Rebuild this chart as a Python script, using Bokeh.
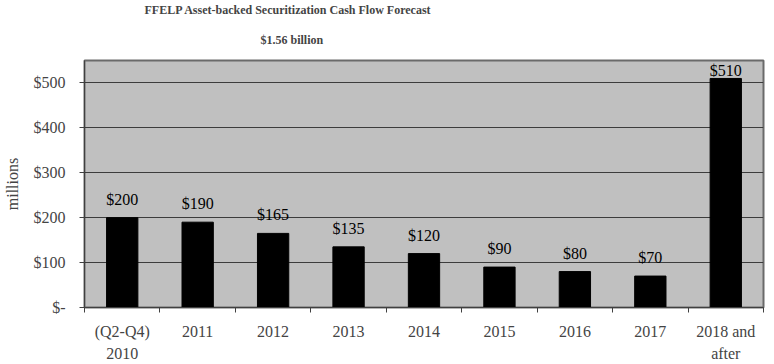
from bokeh.plotting import figure
from bokeh.models import ColumnDataSource, Range1d, FixedTicker, LabelSet, Title
from bokeh.embed import file_html
from bokeh.resources import INLINE

categories = ["(Q2-Q4)\n2010", "2011", "2012", "2013", "2014", "2015", "2016", "2017", "2018 and\nafter"]
values = [200, 190, 165, 135, 120, 90, 80, 70, 510]
value_labels = ["$200", "$190", "$165", "$135", "$120", "$90", "$80", "$70", "$510"]
y_ticks = [0, 100, 200, 300, 400, 500]
y_tick_labels = ["$-", "$100", "$200", "$300", "$400", "$500"]
title_lines = ["FFELP Asset-backed Securitization Cash Flow Forecast", "$1.56 billion"]

Y_MAX = 550
SERIF = "Liberation Serif"
n = len(categories)
centers = [i + 0.5 for i in range(n)]
edges = list(range(n + 1))

# labels sit above bars, except where the top of the plot leaves no room
offsets = [13 if v < 0.88 * Y_MAX else 2 for v in values]

src = ColumnDataSource(dict(x=centers, val=values, lab=value_labels, off=offsets))

p = figure(x_range=Range1d(0, n), y_range=Range1d(0, Y_MAX),
           width=766, height=364, output_backend="svg", toolbar_location=None,
           min_border_left=77, min_border_right=3,
           min_border_top=57, min_border_bottom=56)
p.border_fill_color = "white"
p.background_fill_color = "#c0c0c0"
p.outline_line_color = "#6a6a6a"
p.outline_line_width = 2

# titles (line 1 outermost)
p.title.text = title_lines[0]
p.title.align = "left"
p.title.offset = 60
p.title.text_font = SERIF
p.title.text_font_size = "12px"
p.title.text_font_style = "bold"
p.title.standoff = 0
p.add_layout(Title(text=title_lines[1], align="left", offset=176, text_font=SERIF,
                   text_font_size="12px", text_font_style="bold", standoff=28), "above")

p.vbar(x="x", top="val", width=0.415, source=src, fill_color="black", line_color="black")

p.add_layout(LabelSet(x="x", y="val", text="lab", source=src, y_offset="off",
                      text_align="center", text_baseline="alphabetic",
                      text_font=SERIF, text_font_size="16px", text_color="black"))

# y axis
ya = p.yaxis[0]
ya.ticker = FixedTicker(ticks=y_ticks)
ya.major_label_overrides = {t: l for t, l in zip(y_ticks, y_tick_labels)}
ya.major_label_text_font = SERIF
ya.major_label_text_font_size = "16px"
ya.major_label_standoff = 14
ya.major_tick_out = 5
ya.major_tick_in = 0
ya.minor_tick_out = 0
ya.minor_tick_in = 0
ya.axis_line_color = "#404040"
ya.major_tick_line_color = "#404040"
ya.axis_label = "millions"
ya.axis_label_text_font = SERIF
ya.axis_label_text_font_size = "16px"
ya.axis_label_text_font_style = "normal"
ya.axis_label_standoff = 10

p.ygrid.ticker = FixedTicker(ticks=y_ticks)
p.ygrid.grid_line_color = "#3c3c3c"
p.ygrid.grid_line_width = 1
p.xgrid.grid_line_color = None

# x axis: labels at category centres, tick marks at category boundaries
xa = p.xaxis[0]
xa.ticker = FixedTicker(ticks=centers, minor_ticks=edges)
xa.major_label_overrides = {c: t for c, t in zip(centers, categories)}
xa.major_label_text_font = SERIF
xa.major_label_text_font_size = "16px"
xa.major_label_text_line_height = 1.3
xa.major_label_standoff = 10
xa.major_tick_out = 0
xa.major_tick_in = 0
xa.minor_tick_out = 5
xa.minor_tick_in = 0
xa.axis_line_color = "#404040"
xa.minor_tick_line_color = "#404040"

open("out.html", "w").write(file_html(p, INLINE))
